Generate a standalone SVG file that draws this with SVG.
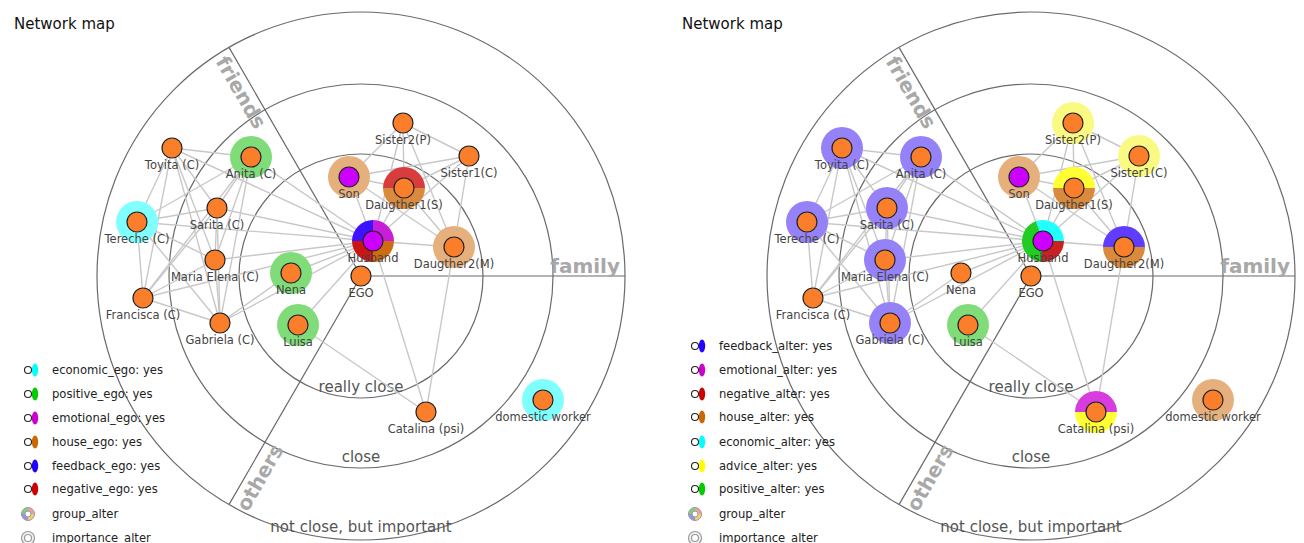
<svg xmlns="http://www.w3.org/2000/svg" xmlns:xlink="http://www.w3.org/1999/xlink" width="1304" height="543" viewBox="0 0 1304 543">
<style>
.ring{fill:none;stroke:#6a6a6a;stroke-width:1.2}
.sl{stroke:#6a6a6a;stroke-width:1.2}
.edge line{stroke:#c8c8c8;stroke-width:1.4}
.n{fill:#fb7f2a;stroke:#222;stroke-width:1.2}
.nm{fill:#cc00ff;stroke:#222;stroke-width:1.2}
.lbl{font-family:"DejaVu Sans",sans-serif;font-size:11.5px;fill:#444;text-anchor:middle}
.sec{font-family:"DejaVu Sans",sans-serif;font-weight:bold;font-size:20px;fill:#a8a8a8}
.rl{font-family:"DejaVu Sans",sans-serif;font-size:15px;fill:#555;text-anchor:middle}
.title{font-family:"DejaVu Sans",sans-serif;font-size:15px;fill:#111}
.leg{font-family:"DejaVu Sans",sans-serif;font-size:11.6px;fill:#222}
.lc{fill:#fff;stroke:#222;stroke-width:1.1}
.green{fill:#80dc78}.cyan{fill:#80ffff}.tan{fill:#e6b07c}.purple{fill:#9682f8}.yellow{fill:#fafa82}
</style>
<defs>
<path id="top" d="M-21,0 A21,21 0 0 1 21,0 Z"/>
<path id="bot" d="M21,0 A21,21 0 0 1 -21,0 Z"/>
<path id="qtl" d="M0,0 L-21,0 A21,21 0 0 1 0,-21 Z"/>
<path id="qtr" d="M0,0 L0,-21 A21,21 0 0 1 21,0 Z"/>
<path id="qbr" d="M0,0 L21,0 A21,21 0 0 1 0,21 Z"/>
<path id="qbl" d="M0,0 L0,21 A21,21 0 0 1 -21,0 Z"/>
<g id="bg">
<circle class="ring" cx="361" cy="276" r="122"/>
<circle class="ring" cx="361" cy="276" r="192"/>
<circle class="ring" cx="361" cy="276" r="264"/>
<line class="sl" x1="361" y1="276" x2="625" y2="276"/>
<line class="sl" x1="361" y1="276" x2="229" y2="47.4"/>
<line class="sl" x1="361" y1="276" x2="229" y2="504.6"/>
<text class="rl" x="361" y="392">really close</text>
<text class="rl" x="361" y="462">close</text>
<text class="rl" x="361" y="532">not close, but important</text>
<text class="sec" x="620" y="273" text-anchor="end">family</text>
<text class="sec" text-anchor="middle" transform="translate(235,96) rotate(60)">friends</text>
<text class="sec" text-anchor="middle" transform="translate(266,481) rotate(-60)">others</text>
</g>
<g id="grpicon">
<path d="M0,0 L-6.5,0 A6.5,6.5 0 0 1 0,-6.5 Z" fill="#7fd07f"/>
<path d="M0,0 L0,-6.5 A6.5,6.5 0 0 1 6.5,0 Z" fill="#f0a0a0"/>
<path d="M0,0 L6.5,0 A6.5,6.5 0 0 1 0,6.5 Z" fill="#f0d070"/>
<path d="M0,0 L0,6.5 A6.5,6.5 0 0 1 -6.5,0 Z" fill="#9a90f0"/>
<circle r="6.5" fill="none" stroke="#999" stroke-width="1"/>
<circle r="3" fill="#fff" stroke="#999" stroke-width="1"/>
</g>
<g id="impicon">
<circle r="6.5" fill="#f2f2f2" stroke="#999" stroke-width="1.2"/>
<circle r="3.5" fill="#fff" stroke="#999" stroke-width="1.2"/>
</g>
</defs>

<text class="title" x="14" y="29">Network map</text>
<text class="title" x="682" y="29">Network map</text>

<!-- LEFT PANEL -->
<g id="left-panel">
<use href="#bg"/>
<g id="L-connectors" class="edge">
<line x1="172" y1="148" x2="251" y2="157"/>
<line x1="172" y1="148" x2="217" y2="208"/>
<line x1="172" y1="148" x2="137" y2="222"/>
<line x1="172" y1="148" x2="215" y2="260"/>
<line x1="172" y1="148" x2="143" y2="298"/>
<line x1="172" y1="148" x2="220" y2="323"/>
<line x1="251" y1="157" x2="217" y2="208"/>
<line x1="251" y1="157" x2="137" y2="222"/>
<line x1="251" y1="157" x2="215" y2="260"/>
<line x1="251" y1="157" x2="143" y2="298"/>
<line x1="251" y1="157" x2="220" y2="323"/>
<line x1="217" y1="208" x2="137" y2="222"/>
<line x1="217" y1="208" x2="215" y2="260"/>
<line x1="217" y1="208" x2="143" y2="298"/>
<line x1="217" y1="208" x2="220" y2="323"/>
<line x1="137" y1="222" x2="215" y2="260"/>
<line x1="137" y1="222" x2="143" y2="298"/>
<line x1="137" y1="222" x2="220" y2="323"/>
<line x1="215" y1="260" x2="143" y2="298"/>
<line x1="215" y1="260" x2="220" y2="323"/>
<line x1="143" y1="298" x2="220" y2="323"/>
<line x1="172" y1="148" x2="373" y2="241"/>
<line x1="251" y1="157" x2="373" y2="241"/>
<line x1="217" y1="208" x2="373" y2="241"/>
<line x1="137" y1="222" x2="373" y2="241"/>
<line x1="215" y1="260" x2="373" y2="241"/>
<line x1="143" y1="298" x2="373" y2="241"/>
<line x1="220" y1="323" x2="373" y2="241"/>
<line x1="291" y1="273" x2="373" y2="241"/>
<line x1="291" y1="273" x2="220" y2="323"/>
<line x1="298" y1="325" x2="373" y2="241"/>
<line x1="298" y1="325" x2="426" y2="412"/>
<line x1="349" y1="177" x2="373" y2="241"/>
<line x1="349" y1="177" x2="404" y2="188"/>
<line x1="349" y1="177" x2="403" y2="123"/>
<line x1="349" y1="177" x2="469" y2="156"/>
<line x1="349" y1="177" x2="454" y2="247"/>
<line x1="404" y1="188" x2="373" y2="241"/>
<line x1="404" y1="188" x2="403" y2="123"/>
<line x1="404" y1="188" x2="469" y2="156"/>
<line x1="404" y1="188" x2="454" y2="247"/>
<line x1="403" y1="123" x2="469" y2="156"/>
<line x1="403" y1="123" x2="454" y2="247"/>
<line x1="403" y1="123" x2="373" y2="241"/>
<line x1="469" y1="156" x2="454" y2="247"/>
<line x1="469" y1="156" x2="373" y2="241"/>
<line x1="373" y1="241" x2="454" y2="247"/>
<line x1="373" y1="241" x2="426" y2="412"/>
<line x1="454" y1="247" x2="426" y2="412"/>
</g>
<g id="L-toyita" transform="translate(172,148)"><circle class="n" r="10"/><text class="lbl" y="21">Toyita (C)</text></g>
<g id="L-anita" transform="translate(251,157)"><circle class="green" r="21"/><circle class="n" r="10"/><text class="lbl" y="21">Anita (C)</text></g>
<g id="L-sarita" transform="translate(217,208)"><circle class="n" r="10"/><text class="lbl" y="21">Sarita (C)</text></g>
<g id="L-tereche" transform="translate(137,222)"><circle class="cyan" r="21"/><circle class="n" r="10"/><text class="lbl" y="21">Tereche (C)</text></g>
<g id="L-mariaelena" transform="translate(215,260)"><circle class="n" r="10"/><text class="lbl" y="21">Maria Elena (C)</text></g>
<g id="L-francisca" transform="translate(143,298)"><circle class="n" r="10"/><text class="lbl" y="21">Francisca (C)</text></g>
<g id="L-gabriela" transform="translate(220,323)"><circle class="n" r="10"/><text class="lbl" y="21">Gabriela (C)</text></g>
<g id="L-nena" transform="translate(291,273)"><circle class="green" r="21"/><circle class="n" r="10"/><text class="lbl" y="21">Nena</text></g>
<g id="L-luisa" transform="translate(298,325)"><circle class="green" r="21"/><circle class="n" r="10"/><text class="lbl" y="21">Luisa</text></g>
<g id="L-sister2" transform="translate(403,123)"><circle class="n" r="10"/><text class="lbl" y="21">Sister2(P)</text></g>
<g id="L-sister1" transform="translate(469,156)"><circle class="n" r="10"/><text class="lbl" y="21">Sister1(C)</text></g>
<g id="L-son" transform="translate(349,177)"><circle class="tan" r="21"/><circle class="nm" r="10"/><text class="lbl" y="21">Son</text></g>
<g id="L-daugther1" transform="translate(404,188)"><use href="#top" fill="#d83c3c"/><use href="#bot" fill="#d98a3c"/><circle class="n" r="10"/><text class="lbl" y="21">Daugther1(S)</text></g>
<g id="L-daugther2" transform="translate(454,247)"><circle class="tan" r="21"/><circle class="n" r="10"/><text class="lbl" y="21">Daugther2(M)</text></g>
<g id="L-husband" transform="translate(373,241)"><use href="#qtl" fill="#3d12ff"/><use href="#qtr" fill="#c81ed8"/><use href="#qbr" fill="#d06c10"/><use href="#qbl" fill="#cc1414"/><circle class="nm" r="10"/><text class="lbl" y="21">Husband</text></g>
<g id="L-ego" transform="translate(361,276)"><circle class="n" r="10"/><text class="lbl" y="21">EGO</text></g>
<g id="L-catalina" transform="translate(426,412)"><circle class="n" r="10"/><text class="lbl" y="21">Catalina (psi)</text></g>
<g id="L-domestic" transform="translate(543,400)"><circle class="cyan" r="21"/><circle class="n" r="10"/><text class="lbl" y="21">domestic worker</text></g>
</g>

<g id="L-legend">
<g transform="translate(0,370)"><ellipse cx="35" rx="3.2" ry="6.5" fill="#00ffff"/><circle class="lc" cx="28" r="3.5"/><text class="leg" x="52" y="4">economic_ego: yes</text></g>
<g transform="translate(0,394)"><ellipse cx="35" rx="3.2" ry="6.5" fill="#00cc00"/><circle class="lc" cx="28" r="3.5"/><text class="leg" x="52" y="4">positive_ego: yes</text></g>
<g transform="translate(0,418)"><ellipse cx="35" rx="3.2" ry="6.5" fill="#cc00cc"/><circle class="lc" cx="28" r="3.5"/><text class="leg" x="52" y="4">emotional_ego: yes</text></g>
<g transform="translate(0,442)"><ellipse cx="35" rx="3.2" ry="6.5" fill="#cc6600"/><circle class="lc" cx="28" r="3.5"/><text class="leg" x="52" y="4">house_ego: yes</text></g>
<g transform="translate(0,466)"><ellipse cx="35" rx="3.2" ry="6.5" fill="#2200ff"/><circle class="lc" cx="28" r="3.5"/><text class="leg" x="52" y="4">feedback_ego: yes</text></g>
<g transform="translate(0,489)"><ellipse cx="35" rx="3.2" ry="6.5" fill="#cc0000"/><circle class="lc" cx="28" r="3.5"/><text class="leg" x="52" y="4">negative_ego: yes</text></g>
<use href="#grpicon" x="28" y="514"/><text class="leg" x="52" y="518">group_alter</text>
<use href="#impicon" x="28" y="538"/><text class="leg" x="52" y="542">importance_alter</text>
</g>

<!-- RIGHT PANEL -->
<g id="right-panel" transform="translate(670,0)">
<use href="#bg"/>
<g id="R-connectors" class="edge">
<line x1="172" y1="148" x2="251" y2="157"/>
<line x1="172" y1="148" x2="217" y2="208"/>
<line x1="172" y1="148" x2="137" y2="222"/>
<line x1="172" y1="148" x2="215" y2="260"/>
<line x1="172" y1="148" x2="143" y2="298"/>
<line x1="172" y1="148" x2="220" y2="323"/>
<line x1="251" y1="157" x2="217" y2="208"/>
<line x1="251" y1="157" x2="137" y2="222"/>
<line x1="251" y1="157" x2="215" y2="260"/>
<line x1="251" y1="157" x2="143" y2="298"/>
<line x1="251" y1="157" x2="220" y2="323"/>
<line x1="217" y1="208" x2="137" y2="222"/>
<line x1="217" y1="208" x2="215" y2="260"/>
<line x1="217" y1="208" x2="143" y2="298"/>
<line x1="217" y1="208" x2="220" y2="323"/>
<line x1="137" y1="222" x2="215" y2="260"/>
<line x1="137" y1="222" x2="143" y2="298"/>
<line x1="137" y1="222" x2="220" y2="323"/>
<line x1="215" y1="260" x2="143" y2="298"/>
<line x1="215" y1="260" x2="220" y2="323"/>
<line x1="143" y1="298" x2="220" y2="323"/>
<line x1="172" y1="148" x2="373" y2="241"/>
<line x1="251" y1="157" x2="373" y2="241"/>
<line x1="217" y1="208" x2="373" y2="241"/>
<line x1="137" y1="222" x2="373" y2="241"/>
<line x1="215" y1="260" x2="373" y2="241"/>
<line x1="143" y1="298" x2="373" y2="241"/>
<line x1="220" y1="323" x2="373" y2="241"/>
<line x1="291" y1="273" x2="373" y2="241"/>
<line x1="291" y1="273" x2="220" y2="323"/>
<line x1="298" y1="325" x2="373" y2="241"/>
<line x1="298" y1="325" x2="426" y2="412"/>
<line x1="349" y1="177" x2="373" y2="241"/>
<line x1="349" y1="177" x2="404" y2="188"/>
<line x1="349" y1="177" x2="403" y2="123"/>
<line x1="349" y1="177" x2="469" y2="156"/>
<line x1="349" y1="177" x2="454" y2="247"/>
<line x1="404" y1="188" x2="373" y2="241"/>
<line x1="404" y1="188" x2="403" y2="123"/>
<line x1="404" y1="188" x2="469" y2="156"/>
<line x1="404" y1="188" x2="454" y2="247"/>
<line x1="403" y1="123" x2="469" y2="156"/>
<line x1="403" y1="123" x2="454" y2="247"/>
<line x1="403" y1="123" x2="373" y2="241"/>
<line x1="469" y1="156" x2="454" y2="247"/>
<line x1="469" y1="156" x2="373" y2="241"/>
<line x1="373" y1="241" x2="454" y2="247"/>
<line x1="373" y1="241" x2="426" y2="412"/>
<line x1="454" y1="247" x2="426" y2="412"/>
</g>
<g id="R-toyita" transform="translate(172,148)"><circle class="purple" r="21"/><circle class="n" r="10"/><text class="lbl" y="21">Toyita (C)</text></g>
<g id="R-anita" transform="translate(251,157)"><circle class="purple" r="21"/><circle class="n" r="10"/><text class="lbl" y="21">Anita (C)</text></g>
<g id="R-sarita" transform="translate(217,208)"><circle class="purple" r="21"/><circle class="n" r="10"/><text class="lbl" y="21">Sarita (C)</text></g>
<g id="R-tereche" transform="translate(137,222)"><circle class="purple" r="21"/><circle class="n" r="10"/><text class="lbl" y="21">Tereche (C)</text></g>
<g id="R-mariaelena" transform="translate(215,260)"><circle class="purple" r="21"/><circle class="n" r="10"/><text class="lbl" y="21">Maria Elena (C)</text></g>
<g id="R-francisca" transform="translate(143,298)"><circle class="n" r="10"/><text class="lbl" y="21">Francisca (C)</text></g>
<g id="R-gabriela" transform="translate(220,323)"><circle class="purple" r="21"/><circle class="n" r="10"/><text class="lbl" y="21">Gabriela (C)</text></g>
<g id="R-nena" transform="translate(291,273)"><circle class="n" r="10"/><text class="lbl" y="21">Nena</text></g>
<g id="R-luisa" transform="translate(298,325)"><circle class="green" r="21"/><circle class="n" r="10"/><text class="lbl" y="21">Luisa</text></g>
<g id="R-sister2" transform="translate(403,123)"><circle class="yellow" r="21"/><circle class="n" r="10"/><text class="lbl" y="21">Sister2(P)</text></g>
<g id="R-sister1" transform="translate(469,156)"><circle class="yellow" r="21"/><circle class="n" r="10"/><text class="lbl" y="21">Sister1(C)</text></g>
<g id="R-son" transform="translate(349,177)"><circle class="tan" r="21"/><circle class="nm" r="10"/><text class="lbl" y="21">Son</text></g>
<g id="R-daugther1" transform="translate(404,188)"><use href="#top" fill="#ffff33"/><use href="#bot" fill="#d98a3c"/><circle class="n" r="10"/><text class="lbl" y="21">Daugther1(S)</text></g>
<g id="R-daugther2" transform="translate(454,247)"><use href="#top" fill="#603cff"/><use href="#bot" fill="#d98a3c"/><circle class="n" r="10"/><text class="lbl" y="21">Daugther2(M)</text></g>
<g id="R-husband" transform="translate(373,241)"><path d="M0,0 L-7.18,-19.73 A21,21 0 0 1 21,0 Z" fill="#22ffff"/><path d="M0,0 L21,0 A21,21 0 0 1 -1.83,20.92 Z" fill="#cc2020"/><path d="M0,0 L-1.83,20.92 A21,21 0 0 1 -7.18,-19.73 Z" fill="#22cc22"/><circle class="nm" r="10"/><text class="lbl" y="21">Husband</text></g>
<g id="R-ego" transform="translate(361,276)"><circle class="n" r="10"/><text class="lbl" y="21">EGO</text></g>
<g id="R-catalina" transform="translate(426,412)"><use href="#top" fill="#d63cde"/><use href="#bot" fill="#ffff33"/><circle class="n" r="10"/><text class="lbl" y="21">Catalina (psi)</text></g>
<g id="R-domestic" transform="translate(543,400)"><circle class="tan" r="21"/><circle class="n" r="10"/><text class="lbl" y="21">domestic worker</text></g>
</g>

<g id="R-legend">
<g transform="translate(667,346)"><ellipse cx="35" rx="3.2" ry="6.5" fill="#2200ff"/><circle class="lc" cx="28" r="3.5"/><text class="leg" x="52" y="4">feedback_alter: yes</text></g>
<g transform="translate(667,370)"><ellipse cx="35" rx="3.2" ry="6.5" fill="#cc00cc"/><circle class="lc" cx="28" r="3.5"/><text class="leg" x="52" y="4">emotional_alter: yes</text></g>
<g transform="translate(667,394)"><ellipse cx="35" rx="3.2" ry="6.5" fill="#cc0000"/><circle class="lc" cx="28" r="3.5"/><text class="leg" x="52" y="4">negative_alter: yes</text></g>
<g transform="translate(667,417)"><ellipse cx="35" rx="3.2" ry="6.5" fill="#cc6600"/><circle class="lc" cx="28" r="3.5"/><text class="leg" x="52" y="4">house_alter: yes</text></g>
<g transform="translate(667,442)"><ellipse cx="35" rx="3.2" ry="6.5" fill="#00ffff"/><circle class="lc" cx="28" r="3.5"/><text class="leg" x="52" y="4">economic_alter: yes</text></g>
<g transform="translate(667,466)"><ellipse cx="35" rx="3.2" ry="6.5" fill="#ffff00"/><circle class="lc" cx="28" r="3.5"/><text class="leg" x="52" y="4">advice_alter: yes</text></g>
<g transform="translate(667,489)"><ellipse cx="35" rx="3.2" ry="6.5" fill="#00cc00"/><circle class="lc" cx="28" r="3.5"/><text class="leg" x="52" y="4">positive_alter: yes</text></g>
<use href="#grpicon" x="695" y="514"/><text class="leg" x="719" y="518">group_alter</text>
<use href="#impicon" x="695" y="538"/><text class="leg" x="719" y="542">importance_alter</text>
</g>
</svg>
